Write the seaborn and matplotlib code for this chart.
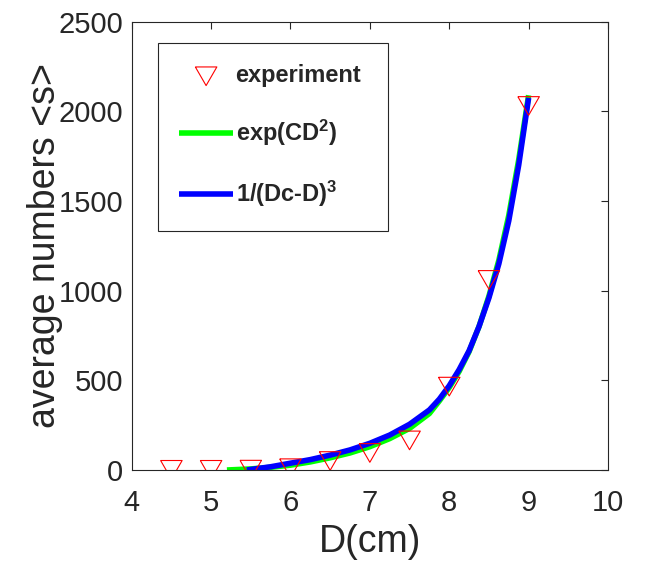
import numpy as np
import pandas as pd
import seaborn as sns
import matplotlib.pyplot as plt

# experimental points
d_exp = [4.5, 5.0, 5.5, 6.0, 6.5, 7.0, 7.5, 8.0, 8.5, 9.0]
s_exp = [1, 1, 2, 10, 50, 95, 165, 465, 1060, 2030]

# fit exp(CD^2)
d_exp_fit = [5.2, 5.5, 5.75, 6.0, 6.25, 6.5, 6.75, 7.0, 7.25, 7.5, 7.75, 7.875,
             8.0, 8.125, 8.25, 8.375, 8.5, 8.625, 8.75, 8.875, 9.0]
s_exp_fit = [0, 6, 15, 27, 45, 68, 95, 130, 175, 232, 315, 385,
             460, 550, 660, 800, 970, 1170, 1420, 1730, 2090]

# fit 1/(Dc-D)^3
d_pow_fit = [5.45, 5.75, 6.0, 6.25, 6.5, 6.75, 7.0, 7.25, 7.5, 7.75, 7.875,
             8.0, 8.125, 8.25, 8.375, 8.5, 8.625, 8.75, 8.875, 9.0]
s_pow_fit = [0, 18, 38, 58, 83, 112, 149, 195, 255, 335, 395,
             470, 560, 665, 800, 960, 1150, 1390, 1700, 2075]

sns.set_style("white")
plt.rcParams['font.family'] = ['Liberation Sans', 'DejaVu Sans']
plt.rcParams['mathtext.fontset'] = 'custom'
plt.rcParams['mathtext.rm'] = 'Liberation Sans:bold'
plt.rcParams['mathtext.bf'] = 'Liberation Sans:bold'
plt.rcParams['mathtext.it'] = 'Liberation Sans:bold'

dark = '#262626'

fig = plt.figure(figsize=(6.5, 5.62), dpi=100)
ax = fig.add_axes([0.2026, 0.1637, 0.7328, 0.7977])

tri = [(-1, 0.866), (1, 0.866), (0, -0.866), (-1, 0.866)]
sns.scatterplot(x=d_exp, y=s_exp, ax=ax, marker=tri, s=240,
                facecolor='none', edgecolor='red', linewidth=0.8,
                label='experiment', zorder=3)
sns.lineplot(x=d_exp_fit, y=s_exp_fit, ax=ax, color='#00ff00', linewidth=4,
             label=r'exp(CD$^{2}$)', sort=False, solid_capstyle='butt')
sns.lineplot(x=d_pow_fit, y=s_pow_fit, ax=ax, color='#0000ff', linewidth=4,
             label=r'1/(Dc-D)$^{3}$', sort=False, solid_capstyle='butt')

ax.set_xlim(4, 10)
ax.set_ylim(0, 2500)
ax.set_xticks([4, 5, 6, 7, 8, 9, 10])
ax.set_yticks([0, 500, 1000, 1500, 2000, 2500])
ax.tick_params(axis='both', direction='in', length=5, width=0.8,
               colors=dark, labelsize=21, top=True, right=True)
ax.tick_params(axis='x', pad=14)
ax.tick_params(axis='y', pad=6)
for sp in ax.spines.values():
    sp.set_color(dark)
    sp.set_linewidth(0.8)

ax.set_xlabel('D(cm)', fontsize=27, color=dark, labelpad=5)
ax.set_ylabel('average numbers <s>', fontsize=27, color=dark, labelpad=-3)

leg = ax.legend(loc='upper left', bbox_to_anchor=(0.0546, 0.55, 0.484, 0.402),
                mode='expand', borderaxespad=0, fancybox=False, framealpha=1,
                edgecolor=dark, handlelength=2.3, handletextpad=0.1,
                labelspacing=1.3, borderpad=0.9,
                prop={'weight': 'bold', 'size': 17})
leg.get_frame().set_linewidth(0.8)

fig.savefig('out.png', dpi=100)
